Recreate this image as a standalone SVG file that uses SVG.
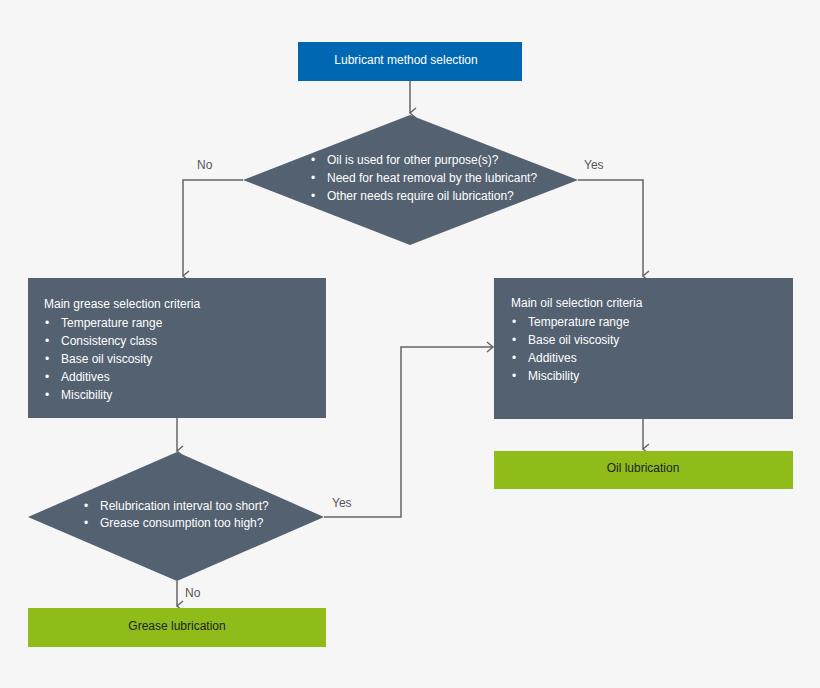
<svg xmlns="http://www.w3.org/2000/svg" width="820" height="688" viewBox="0 0 820 688">
<defs>
<marker id="ah" markerWidth="12" markerHeight="12" refX="6" refY="10" orient="auto" markerUnits="userSpaceOnUse" viewBox="0 0 12 12">
<path d="M1,4 L6,10 L11,4" fill="none" stroke="#666" stroke-width="1.5"/>
</marker>
<marker id="ahr" markerWidth="12" markerHeight="12" refX="10" refY="6" orient="0" markerUnits="userSpaceOnUse" viewBox="0 0 12 12">
<path d="M4,1 L10,6 L4,11" fill="none" stroke="#666" stroke-width="1.5"/>
</marker>
</defs>
<style>
text{font-family:"Liberation Sans",Arial,sans-serif;font-size:12px}
.w{fill:#fff}.d{fill:#222}.l{fill:#555}
.dark{fill:#536170}.blue{fill:#0067b3}.green{fill:#8fbc19}
.c{fill:none;stroke:#666;stroke-width:1.5}
</style>
<rect width="820" height="688" fill="#f6f6f6"/>
<g id="connectors">
<path class="c" d="M410,81 V113" marker-end="url(#ah)"/>
<path class="c" d="M243,180 H183 V276" marker-end="url(#ah)"/>
<path class="c" d="M578,180 H643 V276" marker-end="url(#ah)"/>
<path class="c" d="M177,418 V451" marker-end="url(#ah)"/>
<path class="c" d="M324,517 H401 V347 H493" marker-end="url(#ahr)"/>
<path class="c" d="M643,419 V449" marker-end="url(#ah)"/>
<path class="c" d="M177,581 V606" marker-end="url(#ah)"/>
<text class="l" x="197" y="169">No</text>
<text class="l" x="584" y="169">Yes</text>
<text class="l" x="332" y="507">Yes</text>
<text class="l" x="185" y="597">No</text>
</g>
<g id="start"><rect class="blue" x="298" y="42" width="224" height="39"/><text class="w" x="406" y="64" text-anchor="middle">Lubricant method selection</text></g>
<g id="decision1"><polygon class="dark" points="410,115 578,180 410,245 243,180"/>
<text class="w" x="311" y="164">•</text><text class="w" x="327" y="164">Oil is used for other purpose(s)?</text>
<text class="w" x="311" y="182">•</text><text class="w" x="327" y="182">Need for heat removal by the lubricant?</text>
<text class="w" x="311" y="200">•</text><text class="w" x="327" y="200">Other needs require oil lubrication?</text>
</g>
<g id="grease-criteria"><rect class="dark" x="28" y="278" width="298" height="140"/>
<text class="w" x="44" y="308">Main grease selection criteria</text>
<text class="w" x="45" y="327">•</text><text class="w" x="61" y="327">Temperature range</text>
<text class="w" x="45" y="345">•</text><text class="w" x="61" y="345">Consistency class</text>
<text class="w" x="45" y="363">•</text><text class="w" x="61" y="363">Base oil viscosity</text>
<text class="w" x="45" y="381">•</text><text class="w" x="61" y="381">Additives</text>
<text class="w" x="45" y="399">•</text><text class="w" x="61" y="399">Miscibility</text>
</g>
<g id="oil-criteria"><rect class="dark" x="494" y="278" width="299" height="141"/>
<text class="w" x="511" y="307">Main oil selection criteria</text>
<text class="w" x="512" y="326">•</text><text class="w" x="528" y="326">Temperature range</text>
<text class="w" x="512" y="344">•</text><text class="w" x="528" y="344">Base oil viscosity</text>
<text class="w" x="512" y="362">•</text><text class="w" x="528" y="362">Additives</text>
<text class="w" x="512" y="380">•</text><text class="w" x="528" y="380">Miscibility</text>
</g>
<g id="decision2"><polygon class="dark" points="177,452 324,517 177,581 28,517"/>
<text class="w" x="84" y="510">•</text><text class="w" x="100" y="510">Relubrication interval too short?</text>
<text class="w" x="84" y="527">•</text><text class="w" x="100" y="527">Grease consumption too high?</text>
</g>
<g id="oil-lubrication"><rect class="green" x="494" y="451" width="299" height="38"/><text class="d" x="643" y="472" text-anchor="middle">Oil lubrication</text></g>
<g id="grease-lubrication"><rect class="green" x="28" y="608" width="298" height="39"/><text class="d" x="177" y="630" text-anchor="middle">Grease lubrication</text></g>
</svg>
